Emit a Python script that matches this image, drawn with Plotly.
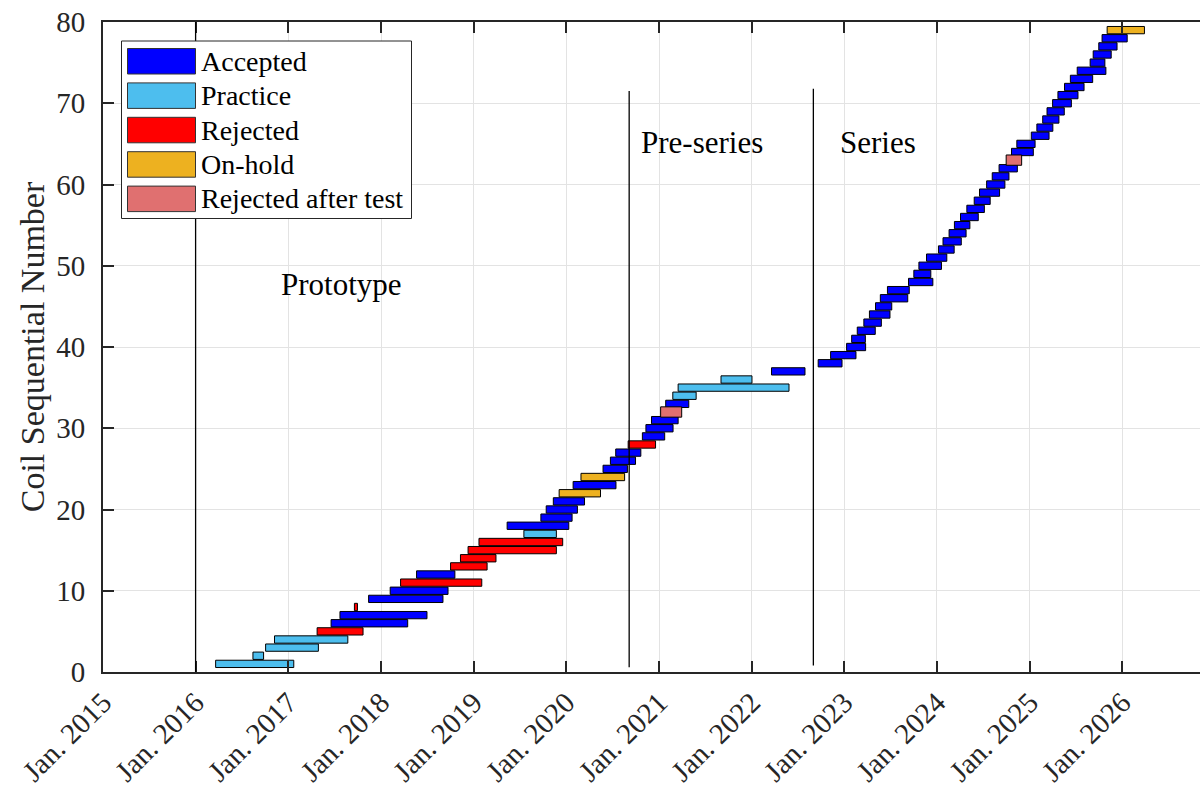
import pandas as pd
import plotly.graph_objects as go

# ---- data -------------------------------------------------------------
coil_number = list(range(1, 80))

start_date = [
    "2016-03-20", "2016-08-14", "2016-10-03", "2016-11-07", "2017-04-24",
    "2017-06-18", "2017-07-23", "2017-09-18", "2017-11-13", "2018-02-06",
    "2018-03-19", "2018-05-21", "2018-10-02", "2018-11-10", "2018-12-10",
    "2019-01-22", "2019-07-18", "2019-05-13", "2019-09-23", "2019-10-14",
    "2019-11-11", "2019-12-04", "2020-01-28", "2020-02-28", "2020-05-25",
    "2020-06-23", "2020-07-14", "2020-09-01", "2020-10-27", "2020-11-10",
    "2020-12-02", "2021-01-07", "2021-01-27", "2021-02-24", "2021-03-17",
    "2021-09-02", "2022-03-20", "2022-09-20", "2022-11-08", "2023-01-10",
    "2023-01-30", "2023-02-21", "2023-03-19", "2023-04-10", "2023-05-04",
    "2023-05-23", "2023-06-20", "2023-09-11", "2023-10-02", "2023-10-22",
    "2023-11-21", "2024-01-07", "2024-01-25", "2024-02-18", "2024-03-10",
    "2024-04-03", "2024-04-28", "2024-05-27", "2024-06-17", "2024-07-15",
    "2024-08-06", "2024-09-02", "2024-09-30", "2024-10-21", "2024-11-11",
    "2025-01-07", "2025-01-29", "2025-02-21", "2025-03-10", "2025-04-01",
    "2025-04-22", "2025-05-18", "2025-06-10", "2025-07-07", "2025-08-27",
    "2025-09-08", "2025-09-30", "2025-10-13", "2025-11-02",
]

end_date = [
    "2017-01-22", "2016-09-25", "2017-04-29", "2017-08-23", "2017-10-22",
    "2018-04-16", "2018-07-01", "2017-09-30", "2018-09-02", "2018-09-22",
    "2019-02-02", "2018-10-19", "2019-02-23", "2019-03-30", "2019-11-23",
    "2019-12-18", "2019-11-23", "2020-01-11", "2020-01-24", "2020-02-14",
    "2020-03-13", "2020-05-15", "2020-07-15", "2020-08-18", "2020-08-29",
    "2020-09-30", "2020-10-21", "2020-12-18", "2021-01-23", "2021-02-25",
    "2021-03-17", "2021-03-31", "2021-04-28", "2021-05-27", "2022-05-28",
    "2022-01-02", "2022-07-30", "2022-12-23", "2023-02-16", "2023-03-26",
    "2023-03-25", "2023-05-03", "2023-05-27", "2023-06-30", "2023-07-07",
    "2023-09-08", "2023-09-14", "2023-12-16", "2023-12-08", "2024-01-19",
    "2024-02-09", "2024-03-09", "2024-04-06", "2024-04-25", "2024-05-10",
    "2024-06-12", "2024-07-06", "2024-07-29", "2024-09-04", "2024-09-25",
    "2024-10-11", "2024-11-13", "2024-11-30", "2025-01-15", "2025-01-22",
    "2025-03-18", "2025-04-02", "2025-04-26", "2025-05-17", "2025-06-14",
    "2025-07-10", "2025-08-03", "2025-09-06", "2025-10-28", "2025-10-24",
    "2025-11-18", "2025-12-11", "2026-01-20", "2026-03-29",
]

status = (
    ["Practice"] * 4 + ["Rejected"] + ["Accepted"] * 2 + ["Rejected"]
    + ["Accepted"] * 2 + ["Rejected"] + ["Accepted"] + ["Rejected"] * 4
    + ["Practice"] + ["Accepted"] * 4 + ["On-hold"] + ["Accepted"]
    + ["On-hold"] + ["Accepted"] * 3 + ["Rejected"] + ["Accepted"] * 3
    + ["Rejected after test"] + ["Accepted"] + ["Practice"] * 3
    + ["Accepted"] * 26 + ["Rejected after test"] + ["Accepted"] * 15
    + ["On-hold"]
)

status_order = ["Accepted", "Practice", "Rejected", "On-hold", "Rejected after test"]
status_color = ["#0000FF", "#4DBEEE", "#FF0000", "#EDB120", "#E07070"]
status_bar_height = [0.9, 0.9, 0.9, 0.9, 1.27]

phase_names = ["Prototype", "Pre-series", "Series"]
phase_label_x = ["2017-07-28", "2021-06-20", "2023-05-15"]
phase_label_y = [47.75, 65.2, 65.2]
phase_boundary_x = ["2016-01-01", "2020-09-05", "2022-09-01"]
phase_boundary_y0 = [0, 0.6, 0.8]
phase_boundary_y1 = [80, 71.5, 71.8]

tick_years = list(range(2015, 2027))
x_start, x_end = "2015-01-01", "2026-11-03"

# ---- figure -----------------------------------------------------------
W, H = 1200, 797
L, R, T, B = 103, 0, 22, 125
FONT = "Liberation Serif, Times New Roman, serif"
INK = "#262626"

df = pd.DataFrame({
    "coil": coil_number,
    "start": pd.to_datetime(start_date),
    "end": pd.to_datetime(end_date),
    "status": status,
})
df["dur_ms"] = (df["end"] - df["start"]).dt.total_seconds() * 1000.0

fig = go.Figure()
for name, color, h in zip(status_order, status_color, status_bar_height):
    sub = df[df["status"] == name]
    if sub.empty:
        continue
    fig.add_trace(go.Bar(
        orientation="h",
        y=sub["coil"],
        x=sub["dur_ms"],
        base=sub["start"].dt.strftime("%Y-%m-%d"),
        width=h,
        marker=dict(color=color, line=dict(color="#000000", width=1)),
        name=name,
        showlegend=False,
    ))

# phase boundaries and labels
for x, y0, y1 in zip(phase_boundary_x, phase_boundary_y0, phase_boundary_y1):
    fig.add_shape(type="line", xref="x", yref="y", x0=x, x1=x, y0=y0, y1=y1,
                  line=dict(color="#000000", width=1.3), layer="above")
for txt, x, y in zip(phase_names, phase_label_x, phase_label_y):
    fig.add_annotation(x=x, y=y, xref="x", yref="y", text=txt, showarrow=False,
                       font=dict(family=FONT, size=31, color="#000000"))

# legend box drawn in pixel space of the plot area
pw, ph = W - L - R, H - T - B


def px(xp):
    return (xp - L) / pw


def py(yp):
    return (H - B - yp) / ph


fig.add_shape(type="rect", xref="paper", yref="paper",
              x0=px(121.5), x1=px(411.5), y0=py(218.5), y1=py(41),
              fillcolor="#FFFFFF", line=dict(color=INK, width=1), layer="above")
row_top, row_step, sw_h = 48.5, 34.4, 25.5
for i, (name, color) in enumerate(zip(status_order, status_color)):
    top = row_top + i * row_step
    fig.add_shape(type="rect", xref="paper", yref="paper",
                  x0=px(127.5), x1=px(195.5), y0=py(top + sw_h), y1=py(top),
                  fillcolor=color, line=dict(color="#333333", width=1), layer="above")
    fig.add_annotation(xref="paper", yref="paper", x=px(199), y=py(top + sw_h / 2),
                       xanchor="left", yanchor="middle", text=name, showarrow=False,
                       font=dict(family=FONT, size=28, color="#000000"))

fig.update_layout(
    width=W, height=H,
    margin=dict(l=L, r=R, t=T, b=B, pad=0),
    plot_bgcolor="#FFFFFF", paper_bgcolor="#FFFFFF",
    barmode="overlay",
    showlegend=False,
    font=dict(family=FONT, size=29, color=INK),
)
fig.update_xaxes(
    type="date", range=[x_start, x_end],
    tickvals=[f"{y}-01-01" for y in tick_years],
    ticktext=[f"Jan. {y}" for y in tick_years],
    tickangle=-45,
    ticks="inside", ticklen=11, tickwidth=2, tickcolor=INK,
    showline=True, linecolor=INK, linewidth=2, mirror="ticks",
    showgrid=True, gridcolor="#E3E3E3", gridwidth=1,
    tickfont=dict(family=FONT, size=29, color=INK),
    zeroline=False,
)
fig.update_yaxes(
    range=[0, 80], dtick=10, tick0=0,
    ticks="inside", ticklen=11, tickwidth=2, tickcolor=INK,
    showline=True, linecolor=INK, linewidth=2, mirror=False,
    showgrid=True, gridcolor="#E3E3E3", gridwidth=1,
    tickfont=dict(family=FONT, size=29, color=INK),
    ticklabelstandoff=10,
    title=dict(text="Coil Sequential Number", standoff=1,
               font=dict(family=FONT, size=34, color=INK)),
    zeroline=False,
)

fig.write_html("out.html")
